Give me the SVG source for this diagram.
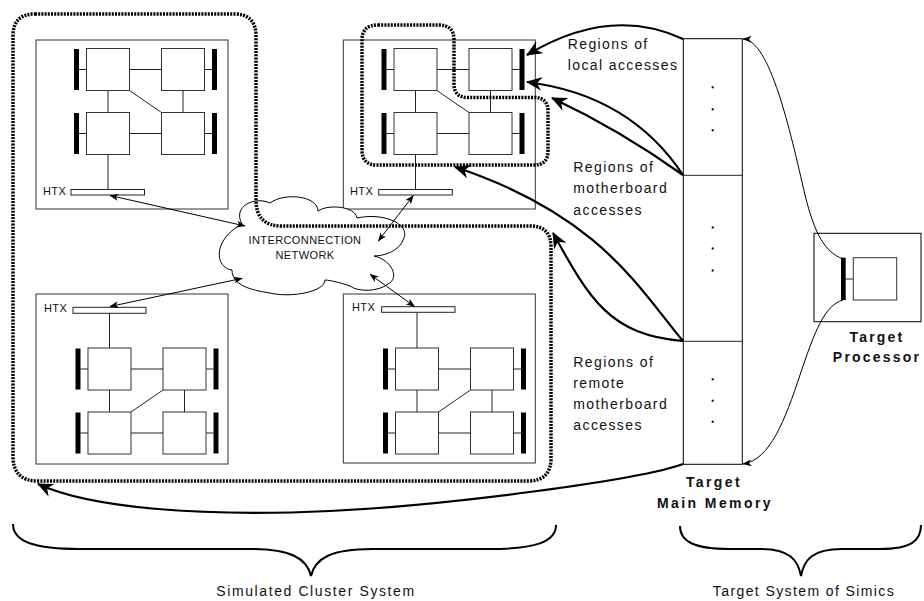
<svg xmlns="http://www.w3.org/2000/svg" xmlns:xlink="http://www.w3.org/1999/xlink" width="924" height="601" viewBox="0 0 924 601">
<style>
.bd{fill:#fff;stroke:#333;stroke-width:1}
.sq{fill:#fff;stroke:#333;stroke-width:1}
.ln{stroke:#222;stroke-width:1;fill:none}
.bar{fill:#000}
.htx{fill:#fff;stroke:#222;stroke-width:1}
.dot{fill:none;stroke:#000;stroke-width:3.5;stroke-dasharray:2 1.2}
.thick{fill:none;stroke:#000;stroke-width:2.2;marker-end:url(#ah)}
.thin{fill:none;stroke:#000;stroke-width:1;marker-end:url(#ta)}
.bi{fill:none;stroke:#000;stroke-width:1;marker-start:url(#ta);marker-end:url(#ta)}
.t{font-family:"Liberation Sans",Arial,sans-serif;font-size:14px;letter-spacing:1.4px;fill:#111}
.tb{font-family:"Liberation Sans",Arial,sans-serif;font-size:14px;font-weight:bold;letter-spacing:2.4px;fill:#111}
.ts{font-family:"Liberation Sans",Arial,sans-serif;font-size:11px;letter-spacing:0.4px;fill:#111}
.brace{fill:none;stroke:#000;stroke-width:2}
</style>
<defs>
<marker id="ah" markerUnits="userSpaceOnUse" markerWidth="16" markerHeight="14" viewBox="0 0 16 14" refX="15" refY="7" orient="auto">
<path d="M0,0 L16,7 L0,14 L5,7 Z" fill="#000"/>
</marker>
<marker id="ta" markerUnits="userSpaceOnUse" markerWidth="9" markerHeight="7" viewBox="0 0 9 7" refX="8.5" refY="3.5" orient="auto-start-reverse">
<path d="M0,0 L9,3.5 L0,7 L2.5,3.5 Z" fill="#000"/>
</marker>
<g id="quad">
<rect class="bar" x="-12.5" y="0.5" width="5" height="41"/>
<rect class="bar" x="125.5" y="0.5" width="5" height="41"/>
<rect class="bar" x="-12.5" y="64.5" width="5" height="41"/>
<rect class="bar" x="125.5" y="64.5" width="5" height="41"/>
<path class="ln" d="M-7.5,21 H0 M43,21 H75 M118,21 H125.5 M-7.5,85 H0 M43,85 H75 M118,85 H125.5 M21.5,42 V64 M96.5,42 V64 M43,42 L75,64"/>
<rect class="sq" x="0" y="0" width="43" height="42"/>
<rect class="sq" x="75" y="0" width="43" height="42"/>
<rect class="sq" x="0" y="64" width="43" height="42"/>
<rect class="sq" x="75" y="64" width="43" height="42"/>
</g>
</defs>
<rect width="924" height="601" fill="#fff"/>

<g id="board-top-left">
<rect class="bd" x="36" y="40" width="192" height="169"/>
<use xlink:href="#quad" transform="translate(86.5,48.5)"/>
<path class="ln" d="M108,154.5 V190"/>
<rect class="htx" x="71" y="189.5" width="73.5" height="5.5"/>
<text class="ts" x="43" y="194.5">HTX</text>
</g>

<g id="board-top-right">
<rect class="bd" x="343.3" y="40" width="192" height="169"/>
<use xlink:href="#quad" transform="translate(394,48.5)"/>
<path class="ln" d="M415.5,154.5 V190"/>
<rect class="htx" x="378.7" y="189.5" width="73.6" height="5.5"/>
<text class="ts" x="350" y="194.5">HTX</text>
</g>

<g id="board-bottom-left">
<rect class="bd" x="36" y="294" width="192" height="170"/>
<use xlink:href="#quad" transform="translate(88,454) scale(1,-1)"/>
<path class="ln" d="M109.5,313 V348"/>
<rect class="htx" x="73" y="307.3" width="73" height="6"/>
<text class="ts" x="44" y="311.5">HTX</text>
</g>

<g id="board-bottom-right">
<rect class="bd" x="343.3" y="294" width="192" height="169"/>
<use xlink:href="#quad" transform="translate(395.5,454) scale(1,-1)"/>
<path class="ln" d="M417,312.3 V348"/>
<rect class="htx" x="381.7" y="306.7" width="73.3" height="5.6"/>
<text class="ts" x="352" y="311">HTX</text>
</g>

<g id="network">
<path d="M242,224 C232,206 255,196 270,203 C285,192 318,196 318,211 C328,204 355,206 357,218 C385,212 412,225 403,240 C400,250 385,256 374,256 C392,260 400,278 388,284 C378,292 358,292 350,286 C345,284 330,280 325,280 C325,292 290,298 270,293 C250,290 232,285 232,270 C215,268 212,240 242,224 Z" fill="#fff" stroke="#000" stroke-width="1"/>
<text class="ts" x="305" y="243.5" text-anchor="middle">INTERCONNECTION</text>
<text class="ts" x="305" y="258.5" text-anchor="middle">NETWORK</text>
</g>

<g id="region-cluster">
<path class="dot" d="M35,14 L234,14 Q256,14 256,36 L256,200 Q256,226 282,226 L530,226 Q551,226 551,247 L551,458 Q551,481 528,481 L38,481 Q13,481 13,456 L13,36 Q13,14 35,14 Z"/>
</g>

<g id="region-motherboard">
<path class="dot" d="M378,25 L439,25 Q454,25 454,40 L454,84 Q454,97.5 468,97.5 L534,97.5 Q548,97.5 548,111 L548,151 Q548,165 534,165 L377,165 Q362,165 362,150 L362,40 Q362,25 378,25 Z"/>
</g>

<g id="memory">
<rect x="683.3" y="38.7" width="59" height="425.6" fill="#fff" stroke="#000" stroke-width="1"/>
<path class="ln" d="M683.3,175.3 H742.3 M683.3,341.3 H742.3"/>
<g fill="#000">
<rect x="711.7" y="86.3" width="2" height="2"/><rect x="711.7" y="108.3" width="2" height="2"/><rect x="711.7" y="129.3" width="2" height="2"/>
<rect x="711.7" y="226.5" width="2" height="2"/><rect x="711.7" y="247.5" width="2" height="2"/><rect x="711.7" y="269.5" width="2" height="2"/>
<rect x="711.7" y="378.3" width="2" height="2"/><rect x="711.7" y="399.7" width="2" height="2"/><rect x="711.7" y="420.7" width="2" height="2"/>
</g>
<text class="tb" x="714" y="486.7" text-anchor="middle">Target</text>
<text class="tb" x="715" y="508.3" text-anchor="middle">Main Memory</text>
</g>

<g id="processor">
<rect x="814" y="233.3" width="107" height="88.4" fill="#fff" stroke="#000" stroke-width="1"/>
<rect class="bar" x="841" y="257.7" width="4.7" height="42.3"/>
<path class="ln" d="M845.7,279 H853.3"/>
<rect class="sq" x="853.3" y="257.7" width="43.4" height="42.3"/>
<text class="tb" x="877" y="341.7" text-anchor="middle" style="letter-spacing:2.2px">Target</text>
<text class="tb" x="877" y="362.3" text-anchor="middle" style="letter-spacing:2.2px">Processor</text>
</g>

<g id="labels">
<text class="t" x="567.7" y="49.3">Regions of</text>
<text class="t" x="567.7" y="70">local accesses</text>
<text class="t" x="573.3" y="171.7">Regions of</text>
<text class="t" x="573.3" y="193.3">motherboard</text>
<text class="t" x="573.3" y="215">accesses</text>
<text class="t" x="573.3" y="366.7">Regions of</text>
<text class="t" x="573.3" y="388.3">remote</text>
<text class="t" x="573.3" y="409.3">motherboard</text>
<text class="t" x="573.3" y="430">accesses</text>
<text class="t" x="316" y="596" text-anchor="middle" style="letter-spacing:1.6px">Simulated Cluster System</text>
<text class="t" x="804" y="596" text-anchor="middle">Target System of Simics</text>
</g>

<g id="braces">
<path class="brace" d="M13,524 C13,542 35,549 80,549 L250,549 C290,549 307,558 311,576 C315,558 332,549 372,549 L490,549 C535,549 556,542 556,525"/>
<path class="brace" d="M680,526 C680,542 695,549 730,549 L760,549 C790,549 798,560 801,576 C804,560 812,549 842,549 L880,549 C912,549 921,540 921,525"/>
</g>

<g id="connectors">
<path class="thick" d="M683,39 Q610,5 527,55"/>
<path class="thick" d="M683,175 Q630,95 527,82"/>
<path class="thick" d="M683,175 Q620,130 552,98"/>
<path class="thick" d="M683,341 C640,290 600,215 455,167"/>
<path class="thick" d="M683,341 C610,335 590,300 553,233"/>
<path class="thick" d="M683,464 C640,480 450,505 330,511 C200,517 90,508 38,484"/>
<path class="thin" d="M843,259 C825,252 815,235 805,195 C790,130 770,40 743,39"/>
<path class="thin" d="M843,300 C825,305 815,330 800,375 C785,420 770,460 743,464"/>
<path class="bi" d="M110,195.5 L245,226"/>
<path class="bi" d="M413.3,195.5 L378.3,241"/>
<path class="bi" d="M242.3,278.3 L110,306.5"/>
<path class="bi" d="M370,274.3 L414.5,306.5"/>
</g>
</svg>
